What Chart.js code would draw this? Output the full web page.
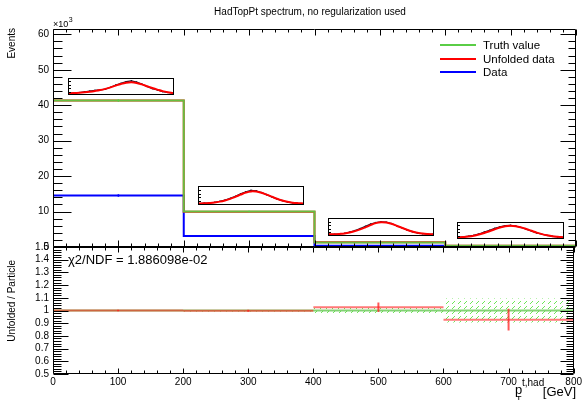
<!DOCTYPE html>
<html>
<head>
<meta charset="utf-8">
<script src="https://cdn.jsdelivr.net/npm/chart.js@4.4.1/dist/chart.umd.min.js"></script>
<style>
html,body{margin:0;padding:0;background:#fff;}
#wrap{position:relative;width:584px;height:400px;overflow:hidden;background:#fff;}
#wrap canvas{position:absolute;}
</style>
</head>
<body>
<div id="wrap">
  <canvas id="topc" width="584" height="262" style="left:0;top:0"></canvas>
  <canvas id="botc" width="584" height="170" style="left:0;top:230px"></canvas>
  <canvas id="in1" width="106" height="17" style="left:68px;top:78px"></canvas>
  <canvas id="in2" width="106" height="19" style="left:198px;top:186px"></canvas>
  <canvas id="in3" width="106" height="18" style="left:328px;top:218px"></canvas>
  <canvas id="in4" width="107" height="17" style="left:457px;top:222px"></canvas>
</div>
<script>
// ---------------- data ----------------
const binEdges = [0, 200, 400, 600, 800];
const truthVals = [41.3, 10.0, 1.3, 0.35];      // x10^3 events
const unfoldedVals = [41.3, 9.95, 1.32, 0.33];
const dataVals = [14.5, 3.1, 0.35, 0.1];
const statErr = [0.35, 0.2, 0.08, 0.05];
const ratioVals = [1.0, 0.998, 1.026, 0.928];
const ratioErr = [0.005, 0.008, 0.037, 0.085];
const truthRelErr = [0.003, 0.008, 0.02, 0.094];
const xTicks = [0, 100, 200, 300, 400, 500, 600, 700, 800];
const yTopTicks = [0, 10, 20, 30, 40, 50, 60];
const yRatioTicks = [0.5, 0.6, 0.7, 0.8, 0.9, 1, 1.1, 1.2, 1.3, 1.4, 1.5];
const legendLabels = ['Truth value', 'Unfolded data', 'Data'];
const chiText = 'χ2/NDF = 1.886098e-02';
const titleText = 'HadTopPt spectrum, no regularization used';

// inset (response shape) curves, fraction of inset height
const inset1Data = [0.06,0.08,0.1,0.15,0.2,0.24,0.28,0.33,0.45,0.6,0.72,0.82,0.88,0.8,0.66,0.5,0.36,0.27,0.16,0.1,0.05];
const inset1Fit  = [0.05,0.06,0.08,0.11,0.15,0.2,0.26,0.34,0.44,0.56,0.67,0.75,0.78,0.74,0.64,0.52,0.4,0.29,0.19,0.12,0.07];
const inset2Data = [0.03,0.05,0.07,0.1,0.16,0.23,0.33,0.46,0.6,0.72,0.8,0.78,0.68,0.55,0.42,0.3,0.2,0.12,0.07,0.04,0.03];
const inset2Fit  = [0.03,0.04,0.06,0.09,0.14,0.21,0.3,0.42,0.55,0.67,0.74,0.73,0.66,0.55,0.43,0.31,0.21,0.13,0.08,0.05,0.03];
const inset3Data = [0.04,0.05,0.07,0.11,0.18,0.28,0.4,0.55,0.68,0.78,0.82,0.8,0.72,0.58,0.45,0.32,0.21,0.13,0.08,0.05,0.04];
const inset3Fit  = [0.04,0.05,0.07,0.1,0.16,0.24,0.35,0.48,0.62,0.74,0.8,0.78,0.7,0.58,0.45,0.33,0.22,0.14,0.09,0.06,0.04];
const inset4Data = [0.05,0.08,0.12,0.18,0.27,0.4,0.52,0.64,0.75,0.82,0.84,0.8,0.7,0.58,0.46,0.34,0.25,0.17,0.11,0.07,0.05];
const inset4Fit  = [0.05,0.07,0.1,0.15,0.23,0.33,0.45,0.58,0.7,0.79,0.82,0.79,0.71,0.6,0.48,0.36,0.26,0.18,0.12,0.08,0.05];

// ---------------- helpers ----------------
const FONT = '"Liberation Sans", Arial, Helvetica, sans-serif';
const GREEN = 'rgb(90,205,70)';
function steps(vals){const p=[];vals.forEach((v,i)=>{p.push({x:binEdges[i],y:v},{x:binEdges[i+1],y:v});});return p;}
function hSegs(vals){const p=[];vals.forEach((v,i)=>{p.push({x:binEdges[i],y:v},{x:binEdges[i+1],y:v},{x:binEdges[i+1],y:null});});return p;}
function errBars(vals,errs){const p=[];vals.forEach((v,i)=>{const c=(binEdges[i]+binEdges[i+1])/2;p.push({x:c,y:v-errs[i]},{x:c,y:v+errs[i]},{x:c,y:null});});return p;}
function bandEdge(sign){return steps(truthRelErr.map(e=>1+sign*e));}
function fmt(v){return String(parseFloat(Number(v).toFixed(3)));}

function hatchPattern(){
  const c=document.createElement('canvas');c.width=6;c.height=5;
  const g=c.getContext('2d');g.fillStyle='rgba(110,230,90,1)';
  g.fillRect(2,3,1,1);g.fillRect(3,2,1,1);g.fillRect(4,1,1,1);
  return g.createPattern(c,'repeat');
}

function each(min,max,step,fn){
  const s=Math.ceil(min/step-1e-6);
  for(let k=s;k*step<=max+1e-6;k++) fn(k*step, k);
}
function deco(cfg){
  return {id:'deco',afterDatasetsDraw(chart){
    const {ctx,chartArea:a,scales}=chart;const xs=scales.x, ys=scales.y;
    const L=Math.round(a.left)+0.5, R=Math.round(a.right)-0.5, T=Math.round(a.top)+0.5, B=Math.round(a.bottom)-0.5;
    ctx.save();ctx.strokeStyle='#000';ctx.lineWidth=1;ctx.beginPath();
    ctx.moveTo(L,T);ctx.lineTo(R,T);ctx.lineTo(R,B);ctx.lineTo(L,B);ctx.closePath();
    each(ys.min,ys.max,cfg.yMinor,(v)=>{
      const maj=Math.abs(v/cfg.yMajor-Math.round(v/cfg.yMajor))<1e-6;
      const p=Math.round(ys.getPixelForValue(v))+0.5;
      ctx.moveTo(L,p);ctx.lineTo(L+(maj?cfg.yMajL:cfg.yMinL),p);
      ctx.moveTo(R,p);ctx.lineTo(R-(maj?cfg.yMajR:cfg.yMinR),p);
    });
    each(xs.min,xs.max,cfg.xMinor,(v)=>{
      const maj=Math.abs(v/cfg.xMajor-Math.round(v/cfg.xMajor))<1e-6;
      const p=Math.round(xs.getPixelForValue(v))+0.5;
      const len=maj?cfg.xMajL:cfg.xMinL;
      ctx.moveTo(p,T);ctx.lineTo(p,T+len);
      ctx.moveTo(p,B);ctx.lineTo(p,B-len);
    });
    ctx.stroke();ctx.restore();
    if(cfg.texts) cfg.texts(ctx,chart);
  }};
}
function vText(ctx,txt,x,yTop,size){
  ctx.save();ctx.translate(x,yTop);ctx.rotate(-Math.PI/2);
  ctx.font=size+'px '+FONT;ctx.fillStyle='#000';ctx.textAlign='right';ctx.textBaseline='middle';
  ctx.fillText(txt,0,0);ctx.restore();
}

// ---------------- top panel ----------------
new Chart(document.getElementById('topc'),{
  type:'line',
  data:{datasets:[
    {label:legendLabels[2],data:steps(dataVals),borderColor:'#0000ff',borderWidth:2,order:4},
    {label:legendLabels[1],data:steps(unfoldedVals),borderColor:'#ff0000',borderWidth:2,order:3},
    {label:legendLabels[0],data:steps(truthVals),borderColor:'rgba(90,205,70,0.93)',borderWidth:2,order:2},
    {data:errBars(dataVals,statErr),borderColor:'#0000ff',borderWidth:1.5,order:1},
    {data:errBars(truthVals,statErr),borderColor:GREEN,borderWidth:1.5,order:0}
  ]},
  options:{
    responsive:false,animation:false,events:[],
    elements:{point:{radius:0},line:{tension:0,fill:false,borderJoinStyle:'miter'}},
    layout:{autoPadding:false,padding:{top:29,right:8,bottom:15,left:0}},
    plugins:{legend:{display:false},tooltip:{enabled:false},title:{display:false}},
    scales:{
      x:{type:'linear',min:0,max:800,display:false},
      y:{type:'linear',min:0,max:61.5,
        afterBuildTicks:s=>{s.ticks=yTopTicks.map(v=>({value:v}));},
        afterFit:s=>{s.width=53;},
        grid:{display:false,drawTicks:false},border:{display:false},
        ticks:{font:{family:FONT,size:10},color:'#000',padding:4,autoSkip:false,callback:v=>fmt(v)}}
    }
  },
  plugins:[deco({yMajor:10,yMinor:2,yMajL:18,yMinL:9,yMajR:15,yMinR:7,xMajor:100,xMinor:20,xMajL:6,xMinL:3,
    texts:(ctx)=>{
      ctx.save();ctx.fillStyle='#000';
      ctx.font='10px '+FONT;ctx.textAlign='center';ctx.textBaseline='middle';
      ctx.fillText(titleText,310,12);
      ctx.textAlign='left';ctx.textBaseline='alphabetic';
      ctx.font='9px '+FONT;ctx.fillText('×10',53,27);
      const w=ctx.measureText('×10').width;
      ctx.font='7px '+FONT;ctx.fillText('3',53+w+0.5,22);
      // legend
      const cols=[GREEN,'#ff0000','#0000ff'];const ys=[45,59,72];
      ctx.lineWidth=2;ctx.font='11.5px '+FONT;ctx.textBaseline='middle';
      legendLabels.forEach((t,i)=>{
        ctx.strokeStyle=cols[i];ctx.beginPath();ctx.moveTo(440,ys[i]);ctx.lineTo(476,ys[i]);ctx.stroke();
        ctx.fillText(t,483,ys[i]+0.5);
      });
      ctx.restore();
      vText(ctx,'Events',12,28,10);
    }})]
});

// ---------------- ratio panel ----------------
new Chart(document.getElementById('botc'),{
  type:'line',
  data:{datasets:[
    {data:bandEdge(1),borderColor:'transparent',borderWidth:0,order:6},
    {data:bandEdge(-1),borderColor:'transparent',borderWidth:0,fill:'-1',backgroundColor:hatchPattern(),order:5},
    {data:steps(truthVals.map(()=>1)),borderColor:'rgba(90,195,70,0.75)',borderWidth:2,order:4},
    {data:hSegs(ratioVals),borderColor:'rgba(255,30,30,0.6)',borderWidth:2,order:2},
    {data:errBars(ratioVals,ratioErr),borderColor:'rgba(255,30,30,0.75)',borderWidth:2,order:1}
  ]},
  options:{
    responsive:false,animation:false,events:[],
    elements:{point:{radius:0},line:{tension:0,fill:false,borderJoinStyle:'miter'}},
    layout:{autoPadding:false,padding:{top:17,right:8,bottom:0,left:0}},
    plugins:{legend:{display:false},tooltip:{enabled:false},filler:{propagate:false}},
    scales:{
      x:{type:'linear',min:0,max:800,
        afterBuildTicks:s=>{s.ticks=xTicks.map(v=>({value:v}));},
        afterFit:s=>{s.height=26;},
        grid:{display:false,drawTicks:false},border:{display:false},
        ticks:{font:{family:FONT,size:10},color:'#000',padding:2,maxRotation:0,autoSkip:false,callback:v=>fmt(v)}},
      y:{type:'linear',min:0.5,max:1.5,
        afterBuildTicks:s=>{s.ticks=yRatioTicks.map(v=>({value:v}));},
        afterFit:s=>{s.width=53;},
        grid:{display:false,drawTicks:false},border:{display:false},
        ticks:{font:{family:FONT,size:10},color:'#000',padding:4,autoSkip:false,callback:v=>fmt(v)}}
    }
  },
  plugins:[deco({yMajor:0.1,yMinor:0.02,yMajL:15,yMinL:8,yMajR:13,yMinR:7,xMajor:100,xMinor:20,xMajL:5,xMinL:3,
    texts:(ctx)=>{
      ctx.save();ctx.fillStyle='#000';ctx.textAlign='left';ctx.textBaseline='middle';
      ctx.font='13px '+FONT;ctx.fillText(chiText,68,30);
      // x axis title
      ctx.textBaseline='alphabetic';
      ctx.font='13px '+FONT;ctx.fillText('p',515,164);
      ctx.font='10px '+FONT;ctx.fillText('t,had',522,156);
      ctx.font='9px '+FONT;ctx.fillText('T',516,172);
      ctx.font='13px '+FONT;ctx.textAlign='right';ctx.fillText('[GeV]',576,166);
      ctx.restore();
      vText(ctx,'Unfolded / Particle',12,30,10);
    }})]
});

// ---------------- insets ----------------
const insetBox={id:'insetBox',afterDraw(chart){
  const {ctx,width,height}=chart;ctx.save();ctx.strokeStyle='#000';ctx.lineWidth=1;
  ctx.strokeRect(0.5,0.5,width-1,height-1);
  ctx.beginPath();for(let k=1;k<5;k++){const y=Math.round(height*k/5)+0.5;ctx.moveTo(1,y);ctx.lineTo(3,y);}ctx.stroke();
  ctx.restore();
}};
function makeInset(id,dataArr,fitArr){
  new Chart(document.getElementById(id),{
    type:'line',
    data:{labels:dataArr.map((_,i)=>i),datasets:[
      {data:fitArr,borderColor:'#ff0000',borderWidth:2,tension:0.4,pointRadius:0,order:1},
      {data:dataArr,borderColor:'#10102a',borderWidth:1.2,tension:0,pointRadius:0.8,pointBackgroundColor:'#10102a',pointBorderWidth:0,order:2}
    ]},
    options:{responsive:false,animation:false,events:[],
      layout:{autoPadding:false,padding:{left:1,right:1,top:1,bottom:1}},
      plugins:{legend:{display:false},tooltip:{enabled:false}},
      scales:{x:{display:false},y:{display:false,min:0,max:1}}},
    plugins:[insetBox]
  });
}
makeInset('in1',inset1Data,inset1Fit);
makeInset('in2',inset2Data,inset2Fit);
makeInset('in3',inset3Data,inset3Fit);
makeInset('in4',inset4Data,inset4Fit);
</script>
</body>
</html>
